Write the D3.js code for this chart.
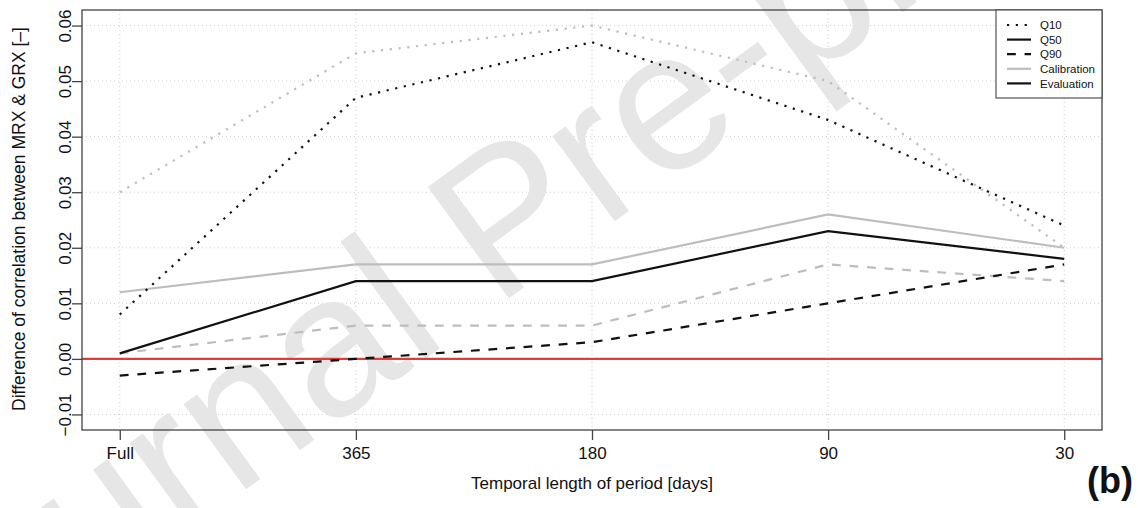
<!DOCTYPE html>
<html lang="en">
<head>
<meta charset="UTF-8">
<title>Difference of correlation between MRX & GRX</title>
<script src="https://d3js.org/d3.v7.min.js"></script>
<style>
    body { margin: 0; background: #fff; }
    svg { font-family: "Liberation Sans", Arial, Helvetica, sans-serif; }
</style>
</head>
<body>
<svg id="chart" width="1138" height="508"></svg>
<script>
    // values
    const periods = ["Full", "365", "180", "90", "30"];
    const q10Cal = [0.030, 0.055, 0.060, 0.050, 0.020];
    const q10Eval = [0.008, 0.047, 0.057, 0.043, 0.024];
    const q50Cal = [0.012, 0.017, 0.017, 0.026, 0.020];
    const q50Eval = [0.001, 0.014, 0.014, 0.023, 0.018];
    const q90Cal = [0.001, 0.006, 0.006, 0.017, 0.014];
    const q90Eval = [-0.003, 0.000, 0.003, 0.010, 0.017];
    const yTicks = [-0.01, 0.00, 0.01, 0.02, 0.03, 0.04, 0.05, 0.06];

    const legendLabels = ["Q10", "Q50", "Q90", "Calibration", "Evaluation"];

    const gray = "#bdbdbd";
    const lw = 2.2;
    const dotted = "2.2 6.6";
    const dashed = "8.8 8.8";

    const series = [
        { values: q10Cal, color: gray, dash: dotted },
        { values: q50Cal, color: gray, dash: null },
        { values: q90Cal, color: gray, dash: dashed },
        { values: q10Eval, color: "#111", dash: dotted },
        { values: q50Eval, color: "#111", dash: null },
        { values: q90Eval, color: "#111", dash: dashed }
    ];
    const legendStyles = [
        { color: "#111", dash: dotted },
        { color: "#111", dash: null },
        { color: "#111", dash: dashed },
        { color: gray, dash: null },
        { color: "#111", dash: null }
    ];

    const plotLeft = 82, plotRight = 1102, plotTop = 10, plotBottom = 430;

    // R style 4% padding on both axes
    const x = d3.scaleLinear().domain([-0.16, periods.length - 1 + 0.16]).range([plotLeft, plotRight]);
    const y = d3.scaleLinear().domain([-0.0128, 0.0628]).range([plotBottom, plotTop]);

    const svg = d3.select("#chart");

    // grid
    const grid = svg.append("g")
        .attr("stroke", "#cfcfcf")
        .attr("stroke-width", 1)
        .attr("stroke-dasharray", "1 3");
    grid.selectAll(".hg")
        .data(yTicks)
        .join("line")
        .attr("class", "hg")
        .attr("x1", plotLeft).attr("x2", plotRight)
        .attr("y1", d => y(d)).attr("y2", d => y(d));
    grid.selectAll(".vg")
        .data(periods)
        .join("line")
        .attr("class", "vg")
        .attr("x1", (d, i) => x(i)).attr("x2", (d, i) => x(i))
        .attr("y1", plotTop).attr("y2", plotBottom);

    // watermark
    svg.append("text")
        .attr("transform", "translate(545,272) rotate(-36)")
        .attr("text-anchor", "middle")
        .attr("font-size", 200)
        .attr("fill", "#e6e6e6")
        .text("Journal Pre-proof");

    // zero line
    svg.append("line")
        .attr("x1", plotLeft).attr("x2", plotRight)
        .attr("y1", y(0)).attr("y2", y(0))
        .attr("stroke", "#e33a3a")
        .attr("stroke-width", 2.4);

    const line = d3.line()
        .x((d, i) => x(i))
        .y(d => y(d));

    svg.append("g")
        .attr("fill", "none")
        .selectAll("path")
        .data(series)
        .join("path")
        .attr("d", d => line(d.values))
        .attr("stroke", d => d.color)
        .attr("stroke-width", lw)
        .attr("stroke-dasharray", d => d.dash);

    // axes
    const yAxis = svg.append("g")
        .attr("transform", `translate(${plotLeft},0)`)
        .call(d3.axisLeft(y).tickValues(yTicks).tickSize(10).tickFormat(d3.format(".2f")));
    yAxis.select(".domain").remove();
    yAxis.selectAll("text")
        .attr("x", null)
        .attr("dy", null)
        .attr("text-anchor", "middle")
        .attr("transform", "rotate(-90)")
        .attr("y", -11)
        .attr("font-size", 17)
        .attr("fill", "#111");

    const xAxis = svg.append("g")
        .attr("transform", `translate(0,${plotBottom})`)
        .call(d3.axisBottom(x).tickValues(d3.range(periods.length)).tickSize(10).tickFormat(i => periods[i]));
    xAxis.select(".domain").remove();
    xAxis.selectAll("text")
        .attr("dy", null)
        .attr("y", 29)
        .attr("font-size", 17)
        .attr("fill", "#111");
    svg.selectAll(".tick line").attr("stroke", "#444").attr("stroke-width", 1.3);

    // box
    svg.append("rect")
        .attr("x", plotLeft).attr("y", plotTop)
        .attr("width", plotRight - plotLeft).attr("height", plotBottom - plotTop)
        .attr("fill", "none")
        .attr("stroke", "#444")
        .attr("stroke-width", 1.3);

    // legend
    const lg = svg.append("g");
    lg.append("rect")
        .attr("x", 996).attr("y", plotTop)
        .attr("width", plotRight - 996).attr("height", 88)
        .attr("fill", "#fff")
        .attr("stroke", "#444")
        .attr("stroke-width", 1.1);
    const items = lg.selectAll(".item")
        .data(legendLabels)
        .join("g")
        .attr("class", "item")
        .attr("transform", (d, i) => `translate(0,${25 + i * 14.6})`);
    items.append("line")
        .attr("x1", 1007).attr("x2", 1031)
        .attr("stroke", (d, i) => legendStyles[i].color)
        .attr("stroke-width", lw)
        .attr("stroke-dasharray", (d, i) => legendStyles[i].dash);
    items.append("text")
        .attr("x", 1040)
        .attr("dy", "0.36em")
        .attr("font-size", 11.5)
        .attr("fill", "#111")
        .text(d => d);

    // titles
    svg.append("text")
        .attr("x", (plotLeft + plotRight) / 2)
        .attr("y", 489)
        .attr("text-anchor", "middle")
        .attr("font-size", 17)
        .attr("fill", "#111")
        .text("Temporal length of period [days]");

    svg.append("text")
        .attr("transform", "translate(25,219) rotate(-90)")
        .attr("text-anchor", "middle")
        .attr("font-size", 17.5)
        .attr("fill", "#111")
        .text("Difference of correlation between MRX & GRX [–]");

    svg.append("text")
        .attr("x", 1133)
        .attr("y", 493)
        .attr("text-anchor", "end")
        .attr("font-size", 36)
        .attr("font-weight", "bold")
        .attr("fill", "#111")
        .text("(b)");
</script>
</body>
</html>
